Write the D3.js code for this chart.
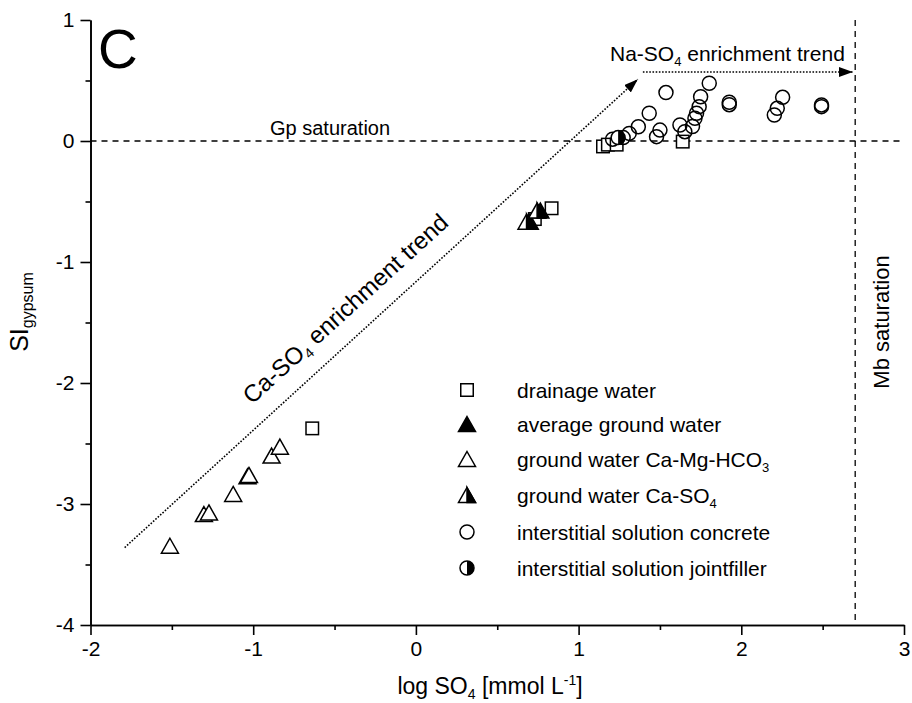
<!DOCTYPE html>
<html>
<head>
<meta charset="utf-8">
<script src="https://cdn.jsdelivr.net/npm/d3@7/dist/d3.min.js"></script>
<style>
  html, body { margin: 0; padding: 0; background: #fff; }
  svg { display: block; font-family: "Liberation Sans", Arial, sans-serif; }
</style>
</head>
<body>
<svg id="chart" width="912" height="703"></svg>
<script>
// ---- data: [log SO4, SI gypsum] ----
const drainage = [[-0.637,-2.375],[0.834,-0.556],[0.731,-0.645],[1.15,-0.045],[1.18,-0.03],[1.234,-0.03],[1.64,-0.005]];
const avgGround = [[0.70,-0.667],[0.765,-0.575]];
const caMgHCO3 = [[-1.512,-3.345],[-1.303,-3.083],[-1.272,-3.07],[-1.123,-2.917],[-1.035,-2.77],[-1.026,-2.76],[-0.887,-2.6],[-0.836,-2.526]];
const caSO4 = [[0.68,-0.667],[0.745,-0.575]];
const concrete = [[1.209,0.015],[1.274,0.028],[1.311,0.063],[1.367,0.118],[1.434,0.229],[1.479,0.036],[1.50,0.09],
  [1.537,0.40],[1.623,0.132],[1.653,0.077],[1.70,0.12],[1.715,0.188],[1.725,0.229],[1.741,0.284],[1.75,0.366],
  [1.803,0.477],[1.926,0.32],[1.926,0.30],[2.203,0.215],[2.221,0.27],[2.254,0.361],[2.493,0.298],[2.493,0.284]];
const jointfiller = [[1.243,0.028]];

const legendNames = ["drainage water","average ground water","ground water Ca-Mg-HCO3","ground water Ca-SO4","interstitial solution concrete","interstitial solution jointfiller"];

const xTicks = [-2,-1,0,1,2,3];
const yTicks = [-4,-3,-2,-1,0,1];
const xMinor = [-1.5,-0.5,0.5,1.5,2.5];
const yMinor = [-3.5,-2.5,-1.5,-0.5,0.5];

// saturation limits and trend arrows
const gpSaturation = 0;
const mbSaturation = 2.7;
const caTrend = [[-1.79,-3.36],[1.364,0.51]];
const naTrend = [[1.395,0.57],[2.686,0.57]];

// ---- scales ----
const svg = d3.select("#chart");
const x = d3.scaleLinear().domain([-2,3]).range([90.5,904]);
const y = d3.scaleLinear().domain([-4,1]).range([625,20]);

const TICK_FONT = 21, LEG_FONT = 21, TITLE_FONT = 23;

// ---- axes ----
const gx = svg.append("g").attr("transform",`translate(0,${y(-4)})`)
  .call(d3.axisBottom(x).tickValues(xTicks).tickSize(10).tickSizeOuter(0).tickPadding(6));
svg.append("g").attr("transform",`translate(0,${y(-4)})`)
  .call(d3.axisBottom(x).tickValues(xMinor).tickSize(5).tickSizeOuter(0).tickFormat(""));
const gy = svg.append("g").attr("transform",`translate(${x(-2)},0)`)
  .call(d3.axisLeft(y).tickValues(yTicks).tickSize(10).tickSizeOuter(0).tickPadding(6));
svg.append("g").attr("transform",`translate(${x(-2)},0)`)
  .call(d3.axisLeft(y).tickValues(yMinor).tickSize(5).tickSizeOuter(0).tickFormat(""));

svg.selectAll(".domain").attr("stroke","#000").attr("stroke-width",1.6);
svg.selectAll(".tick line").attr("stroke","#000").attr("stroke-width",1.6);
svg.selectAll(".tick text").attr("font-size",TICK_FONT).attr("font-family","Liberation Sans, Arial, sans-serif").attr("fill","#000");
// plain hyphen for negative tick labels
gx.selectAll(".tick text").text(d => d < 0 ? "-" + Math.abs(d) : d);
gy.selectAll(".tick text").text(d => d < 0 ? "-" + Math.abs(d) : d);

// axis titles
const xt = svg.append("text").attr("x",490).attr("y",694).attr("text-anchor","middle").attr("font-size",TITLE_FONT);
xt.append("tspan").text("log SO");
xt.append("tspan").attr("font-size",14).attr("dy",5).text("4");
xt.append("tspan").attr("dy",-5).text(" [mmol L");
xt.append("tspan").attr("font-size",14).attr("dy",-9).text("-1");
xt.append("tspan").attr("dy",9).text("]");

const yt = svg.append("text").attr("transform","translate(28,312) rotate(-90)").attr("text-anchor","middle").attr("font-size",25);
yt.append("tspan").text("SI");
yt.append("tspan").attr("font-size",16).attr("dy",5).text("gypsum");

// ---- reference lines ----
svg.append("line").attr("x1",x(-2)).attr("x2",x(3)).attr("y1",y(gpSaturation)).attr("y2",y(gpSaturation))
  .attr("stroke","#000").attr("stroke-width",1.3).attr("stroke-dasharray","6,5");
svg.append("line").attr("x1",x(mbSaturation)).attr("x2",x(mbSaturation)).attr("y1",y(1)).attr("y2",y(-4))
  .attr("stroke","#000").attr("stroke-width",1.3).attr("stroke-dasharray","6,5");

svg.append("text").attr("x",270).attr("y",135).attr("font-size",20).text("Gp saturation");
svg.append("text").attr("transform",`translate(889,322) rotate(-90)`).attr("text-anchor","middle").attr("font-size",22).text("Mb saturation");

// panel letter
svg.append("text").attr("x",98).attr("y",68).attr("font-size",55).text("C");

// ---- trend arrows ----
const defs = svg.append("defs");
defs.append("marker").attr("id","arrow").attr("viewBox","0 0 14 10").attr("refX",14).attr("refY",5)
  .attr("markerWidth",14).attr("markerHeight",10).attr("markerUnits","userSpaceOnUse").attr("orient","auto")
  .append("path").attr("d","M0,0 L14,5 L0,10 Z").attr("fill","#000");

[caTrend, naTrend].forEach(t => {
  svg.append("line").attr("x1",x(t[0][0])).attr("y1",y(t[0][1])).attr("x2",x(t[1][0])).attr("y2",y(t[1][1]))
    .attr("stroke","#000").attr("stroke-width",1.6).attr("stroke-dasharray","1.6,1.6").attr("marker-end","url(#arrow)");
});

const caAngle = Math.atan2(y(caTrend[1][1]) - y(caTrend[0][1]), x(caTrend[1][0]) - x(caTrend[0][0])) * 180 / Math.PI;
const ct = svg.append("text").attr("transform",`translate(252,405) rotate(${caAngle})`).attr("font-size",24);
ct.append("tspan").text("Ca-SO");
ct.append("tspan").attr("font-size",14).attr("dy",5).text("4");
ct.append("tspan").attr("dy",-5).text(" enrichment trend");

const nt = svg.append("text").attr("x",610).attr("y",61).attr("font-size",21);
nt.append("tspan").text("Na-SO");
nt.append("tspan").attr("font-size",13).attr("dy",5).text("4");
nt.append("tspan").attr("dy",-5).text(" enrichment trend");

// ---- marker drawing ----
const SQ = 12.5, TW = 17, TH = 15, CR = 7;
function drawSymbol(g, kind, cx, cy) {
  const sw = 1.5;
  if (kind === "square") {
    g.append("rect").attr("x",cx-SQ/2).attr("y",cy-SQ/2).attr("width",SQ).attr("height",SQ)
      .attr("fill","#fff").attr("stroke","#000").attr("stroke-width",sw);
  } else if (kind === "tri" || kind === "triFill") {
    g.append("path").attr("d",`M${cx},${cy-TH/2} L${cx+TW/2},${cy+TH/2} L${cx-TW/2},${cy+TH/2} Z`)
      .attr("fill", kind === "triFill" ? "#000" : "#fff").attr("stroke","#000").attr("stroke-width",sw);
  } else if (kind === "triHalf") {
    g.append("path").attr("d",`M${cx},${cy-TH/2} L${cx+TW/2},${cy+TH/2} L${cx-TW/2},${cy+TH/2} Z`)
      .attr("fill","#fff").attr("stroke","#000").attr("stroke-width",sw);
    g.append("path").attr("d",`M${cx},${cy-TH/2} L${cx+TW/2},${cy+TH/2} L${cx},${cy+TH/2} Z`)
      .attr("fill","#000").attr("stroke","#000").attr("stroke-width",sw);
  } else if (kind === "circle") {
    g.append("circle").attr("cx",cx).attr("cy",cy).attr("r",CR)
      .attr("fill","none").attr("stroke","#000").attr("stroke-width",sw);
  } else if (kind === "circleHalf") {
    g.append("circle").attr("cx",cx).attr("cy",cy).attr("r",CR)
      .attr("fill","#fff").attr("stroke","#000").attr("stroke-width",sw);
    g.append("path").attr("d",`M${cx},${cy-CR} A${CR},${CR} 0 0 1 ${cx},${cy+CR} Z`).attr("fill","#000");
  }
}

const series = [
  {data: drainage, kind: "square"},
  {data: avgGround, kind: "triFill"},
  {data: caMgHCO3, kind: "tri"},
  {data: caSO4, kind: "triHalf"},
  {data: concrete, kind: "circle"},
  {data: jointfiller, kind: "circleHalf"}
];

const pts = svg.append("g");
series.forEach(s => {
  s.data.forEach(d => drawSymbol(pts.append("g"), s.kind, x(d[0]), y(d[1])));
});

// ---- legend ----
const legY = [390, 424, 459, 495, 532, 568];
const lg = svg.append("g");
series.forEach((s, i) => {
  drawSymbol(lg.append("g"), s.kind, 467, legY[i]);
  const t = lg.append("text").attr("x",517).attr("y",legY[i] + 7.5).attr("font-size",LEG_FONT);
  const name = legendNames[i];
  const m = name.match(/^(.*)(HCO|SO)(3|4)$/);
  if (m) {
    t.append("tspan").text(m[1] + m[2]);
    t.append("tspan").attr("font-size",13).attr("dy",5).text(m[3]);
  } else {
    t.text(name);
  }
});
</script>
</body>
</html>
